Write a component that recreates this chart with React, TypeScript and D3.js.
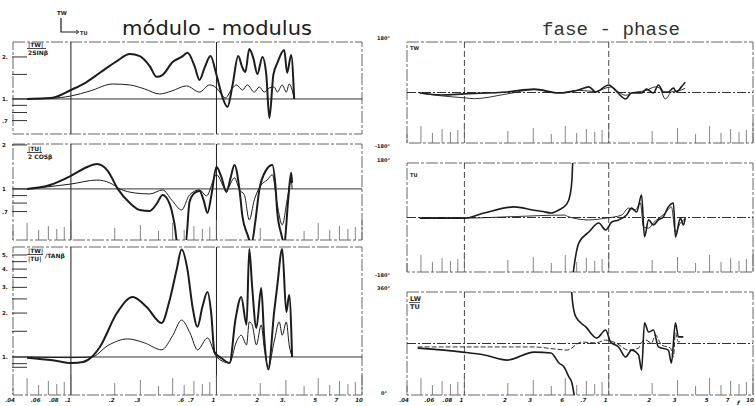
import React from 'react';
import * as d3 from 'd3';

const W = 755;
const H = 406;

type Pt = [number, number];

// ---- módulo (modulus) curves: [frequency, value] ----
const twModThick: Pt[] = [[0.05,1],[0.0664,1.01],[0.0777,1.03],[0.1,1.16],[0.125,1.30],[0.158,1.54],[0.207,1.87],[0.254,2.10],[0.297,2.03],[0.348,1.72],[0.388,1.44],[0.427,1.49],[0.5,1.84],[0.576,2.0],[0.633,2.14],[0.707,1.72],[0.765,1.37],[0.828,1.67],[0.91,2.03],[1.0,1.49],[1.10,1.03],[1.19,0.876],[1.29,1.26],[1.41,2.03],[1.51,1.67],[1.58,1.56],[1.68,2.28],[1.79,1.97],[1.91,1.51],[2.07,2.0],[2.20,1.49],[2.31,0.73],[2.46,1.49],[2.62,1.81],[2.92,2.24],[3.06,1.54],[3.26,2.07],[3.42,1.0]];
const twModThin: Pt[] = [[0.05,1],[0.0718,1.01],[0.1,1.05],[0.135,1.14],[0.194,1.28],[0.254,1.26],[0.321,1.18],[0.407,1.086],[0.492,1.14],[0.623,1.24],[0.765,1.12],[0.895,1.26],[1.0,1.20],[1.08,1.086],[1.15,1.017],[1.29,1.20],[1.37,1.26],[1.51,1.16],[1.63,1.26],[1.82,1.12],[1.97,1.22],[2.13,1.12],[2.31,1.20],[2.49,1.22],[2.62,1.12],[2.83,1.26],[3.02,1.12],[3.16,1.28],[3.31,1.16],[3.42,1.0]];

const tuModThick: Pt[] = [[0.05,1],[0.0718,1.065],[0.1,1.23],[0.125,1.39],[0.151,1.48],[0.179,1.33],[0.21,1.0],[0.254,0.80],[0.297,0.718],[0.348,0.707],[0.388,0.79],[0.427,0.91],[0.477,0.79],[0.516,0.567],[0.54,0.42],[0.614,0.42],[0.653,0.815],[0.707,0.939],[0.765,0.969],[0.815,0.841],[0.868,0.685],[0.924,0.91],[1.0,1.41],[1.08,1.21],[1.17,0.954],[1.25,1.19],[1.33,1.46],[1.44,0.984],[1.51,0.643],[1.63,0.49],[1.74,0.42],[1.85,0.60],[1.97,0.984],[2.20,1.35],[2.42,1.46],[2.54,1.065],[2.62,0.685],[2.79,0.49],[2.92,0.42],[3.11,0.841],[3.26,1.29],[3.31,1.10]];
const tuModThin: Pt[] = [[0.05,1],[0.1,1.08],[0.151,1.15],[0.185,1.10],[0.217,1.0],[0.274,0.939],[0.348,0.924],[0.427,0.984],[0.492,0.841],[0.576,0.718],[0.653,0.91],[0.765,0.984],[0.854,0.896],[1.0,1.25],[1.17,0.984],[1.33,1.19],[1.44,0.984],[1.555,0.91],[1.68,0.613],[1.82,0.841],[2.03,1.065],[2.23,1.15],[2.42,1.25],[2.62,0.777],[2.83,0.567],[3.06,0.841],[3.26,1.15],[3.31,1.0]];

const ratioModThick: Pt[] = [[0.05,0.99],[0.075,0.95],[0.102,0.91],[0.121,0.924],[0.139,1.0],[0.158,1.17],[0.207,2.0],[0.266,2.58],[0.331,2.2],[0.42,1.71],[0.477,2.46],[0.532,3.94],[0.576,5.45],[0.633,3.94],[0.685,2.2],[0.741,1.61],[0.80,2.2],[0.868,2.79],[0.92,2.0],[0.969,1.08],[1.08,0.984],[1.23,0.91],[1.35,1.8],[1.48,2.58],[1.61,1.66],[1.68,5.5],[1.76,3.0],[1.88,1.58],[2.03,2.97],[2.13,1.35],[2.27,0.82],[2.49,2.03],[2.62,3.11],[2.83,5.5],[3.02,2.03],[3.16,2.66],[3.31,1.0]];
const ratioModThin: Pt[] = [[0.05,1.0],[0.1,0.99],[0.139,1.0],[0.18,1.2],[0.245,1.33],[0.32,1.25],[0.42,1.12],[0.5,1.4],[0.576,1.79],[0.66,1.45],[0.741,1.12],[0.868,1.35],[1.0,1.0],[1.23,0.91],[1.37,1.27],[1.48,1.41],[1.61,1.21],[1.68,1.74],[1.76,1.66],[1.88,1.21],[2.03,1.66],[2.13,1.15],[2.27,0.854],[2.49,1.27],[2.70,1.74],[2.83,1.41],[3.02,1.74],[3.16,1.21],[3.31,1.0]];

// ---- fase (phase) curves: [frequency, degrees] ----
const twPhaseThick: Pt[] = [[0.049,-2],[0.0694,-9],[0.1,-5],[0.198,2],[0.304,12],[0.452,-2],[0.621,9],[0.728,20],[0.814,2],[1.0,27],[1.14,2],[1.31,-23],[1.44,-2],[1.69,-2],[1.83,12],[2.04,-2],[2.21,27],[2.39,2],[2.59,2],[2.81,16],[2.94,2],[3.19,20],[3.39,37]];
const twPhaseThin: Pt[] = [[0.049,-2],[0.0694,-12],[0.1,-19],[0.117,-22],[0.198,-5],[0.304,10],[0.452,-1],[0.621,8],[0.814,3],[0.953,16],[1.05,20],[1.17,2],[1.31,-10],[1.44,-2],[1.83,8],[2.11,20],[2.25,16],[2.47,-23],[2.72,2],[3.19,9],[3.39,15]];

const tuPhaseThickA: Pt[] = [[0.049,-2],[0.1,-2],[0.137,15],[0.221,35],[0.304,24],[0.35,20],[0.398,15],[0.452,25],[0.513,45],[0.54,75],[0.556,124],[0.563,185]];
const tuPhaseThickB: Pt[] = [[0.567,-185],[0.58,-150],[0.621,-84],[0.728,-48],[0.853,-18],[0.953,-41],[1.05,-15],[1.17,-8],[1.33,8],[1.44,31],[1.56,18],[1.69,74],[1.77,-64],[1.89,-8],[2.04,-25],[2.21,-8],[2.39,2],[2.59,35],[2.81,48],[2.90,-64],[3.14,-2],[3.29,-25],[3.39,-2]];
const tuPhaseThin: Pt[] = [[0.049,-2],[0.1,-2],[0.221,3],[0.49,8],[0.53,2],[0.728,-8],[0.953,-2],[1.23,8],[1.37,31],[1.53,25],[1.66,48],[1.74,-31],[1.89,-35],[2.04,-18],[2.47,15],[2.72,35],[2.90,-48],[3.14,-18],[3.39,-5]];

const ratioPhaseThickA: Pt[] = [[0.0474,164],[0.097,150],[0.137,140],[0.198,122],[0.304,150],[0.398,147],[0.452,112],[0.49,98],[0.53,63],[0.556,42],[0.573,7],[0.578,-5]];
const ratioPhaseThickB: Pt[] = [[0.553,365],[0.56,330],[0.592,273],[0.694,238],[0.827,199],[0.953,227],[1.03,185],[1.17,168],[1.31,133],[1.44,157],[1.61,140],[1.69,87],[1.77,252],[1.89,220],[2.04,227],[2.21,168],[2.59,157],[2.72,112],[2.90,252],[3.04,203],[3.29,203]];
const ratioPhaseThin: Pt[] = [[0.0474,168],[0.1,168],[0.198,168],[0.304,168],[0.417,161],[0.513,157],[0.651,185],[0.814,182],[0.953,192],[1.12,182],[1.37,157],[1.61,164],[1.69,185],[1.80,192],[1.98,182],[2.11,210],[2.32,175],[2.68,164],[2.81,133],[2.90,217],[3.04,185],[3.19,192]];

// ---- axis labels ----
const leftFreqTicks = [0.04, 0.06, 0.08, 0.1, 0.2, 0.3, 0.6, 0.7, 1, 2, 3, 5, 7, 10];
const leftFreqLabels = ['.04', '.06', '.08', '.1', '.2', '.3', '.6', '.7', '1', '2', '3.', '5', '7', '10'];
const rightFreqTicks = [0.04, 0.06, 0.08, 0.1, 0.2, 0.3, 0.5, 0.7, 1, 2, 3, 5, 7, 10];
const rightFreqLabels = ['.04', '.06', '.08', '1', '2', '3', '6', '.7', '1', '2', '3', '5', '7', '10'];

const twModTicks = [2, 1.5, 1, 0.9, 0.8, 0.7];
const twModLabels: [number, string][] = [[2, '2.'], [1, '1.'], [0.7, '.7']];
const tuModTicks = [2, 1, 0.9, 0.8, 0.7];
const tuModLabels: [number, string][] = [[2, '2'], [1, '1'], [0.7, '.7']];
const ratioModTicks = [5, 4.5, 4, 3.5, 3, 2.5, 2, 1.5, 1, 0.9, 0.85];
const ratioModLabels: [number, string][] = [[5, '5.'], [4, '4.'], [3, '3.'], [2, '2.'], [1, '1.']];

const combHeight: Record<number, number> = { 1: 20, 2: 12, 3: 15, 4: 9, 5: 17, 6: 10, 7: 14, 8: 11, 9: 13 };

const INK = '#1c1c1c';
const FRAME = '#666';

const xL = d3.scaleLog().domain([0.04, 10]).range([13, 362]);
const xR = d3.scaleLog().domain([0.04, 10]).range([407, 753]);

type Curve = { data: Pt[]; w: number; dash?: string };

type PanelProps = {
  id: string;
  x: d3.ScaleLogarithmic<number, number>;
  y: any;
  refValue: number;
  curves: Curve[];
  comb?: boolean;
  dashedGrid?: boolean;
};

function Panel({ id, x, y, refValue, curves, comb, dashedGrid }: PanelProps) {
  const [x0, x1] = x.range();
  const [yb, yt] = y.range();
  const line = d3.line<Pt>().x(d => x(d[0])).y(d => y(d[1])).curve(d3.curveMonotoneX);
  const ticks = x.ticks();
  return (
    <g>
      <defs>
        <clipPath id={id}>
          <rect x={x0} y={yt} width={x1 - x0} height={yb - yt} />
        </clipPath>
      </defs>
      <rect x={x0} y={yt} width={x1 - x0} height={yb - yt} fill="none" stroke={FRAME}
        strokeWidth={1} strokeDasharray="12 2 3 2" />
      {[0.1, 1].map(v => (
        <line key={v} x1={x(v)} x2={x(v)} y1={yt} y2={yb} stroke={INK}
          strokeWidth={dashedGrid ? 0.8 : 1} strokeDasharray={dashedGrid ? '6 3' : undefined} />
      ))}
      <line x1={x0} x2={x1} y1={y(refValue)} y2={y(refValue)} stroke={INK} strokeWidth={0.9}
        strokeDasharray={dashedGrid ? '9 2 2 2' : undefined} />
      {comb && ticks.map((t, i) => {
        const digit = Math.round(t / Math.pow(10, Math.floor(Math.log10(t) + 1e-9)));
        return (
          <line key={i} x1={x(t)} x2={x(t)} y1={yb} y2={yb - (combHeight[digit] || 10)}
            stroke={FRAME} strokeWidth={0.8} />
        );
      })}
      <g clipPath={`url(#${id})`}>
        {curves.map((c, i) => (
          <path key={i} d={line(c.data) || ''} fill="none" stroke={INK} strokeWidth={c.w}
            strokeDasharray={c.dash} strokeLinejoin="round" />
        ))}
      </g>
    </g>
  );
}

function LeftTicks({ y, ticks, labels }: { y: any; ticks: number[]; labels: [number, string][] }) {
  return (
    <g>
      {ticks.map((t, i) => (
        <line key={i} x1={12} x2={27} y1={y(t)} y2={y(t)} stroke={INK} strokeWidth={0.9} />
      ))}
      {labels.map(([v, s], i) => (
        <text key={i} x={2} y={y(v) + 2} fontSize={5.5} fontWeight="bold" fill={INK}
          fontFamily="DejaVu Sans">{s}</text>
      ))}
    </g>
  );
}

function FreqLabels({ x, ticks, labels }: { x: any; ticks: number[]; labels: string[] }) {
  return (
    <g>
      {ticks.map((t, i) => (
        <text key={i} x={x(t) - 3} y={402} fontSize={5.5} fontWeight="bold" fill={INK}
          textAnchor="middle" fontFamily="DejaVu Sans" fontStyle="italic">{labels[i]}</text>
      ))}
    </g>
  );
}

export default function App() {
  const yTWmod = d3.scaleLog().domain([0.561, 2.56]).range([134, 42]);
  const yTUmod = d3.scaleLog().domain([0.447, 2.03]).range([240, 144]);
  const yRatioMod = d3.scaleLog().domain([0.549, 5.67]).range([395, 247]);
  const yTWph = d3.scaleLinear().domain([-180, 180]).range([143, 42]);
  const yTUph = d3.scaleLinear().domain([-180, 180]).range([272, 163]);
  const yRatioPh = d3.scaleLinear().domain([0, 360]).range([395, 292]);

  const small = { fontSize: 6, fontWeight: 'bold' as const, fill: INK, fontFamily: 'DejaVu Sans' };
  const deg = { fontSize: 5, fontWeight: 'bold' as const, fill: INK, fontFamily: 'DejaVu Sans' };

  return (
    <svg width={W} height={H} style={{ position: 'absolute', left: 0, top: 0, background: '#fff' }}>
      {/* headings */}
      <text x={57} y={15} {...small} fontSize={5.5}>TW</text>
      <path d="M61,18 L61,32 L78,32" fill="none" stroke={INK} strokeWidth={1.2} />
      <path d="M76,30 L79,32 L76,34" fill="none" stroke={INK} strokeWidth={0.8} />
      <text x={80} y={35} {...small} fontSize={5}>TU</text>
      <text x={122} y={35} fontSize={19} fontFamily="DejaVu Sans" fill={INK}
        textLength={190} lengthAdjust="spacingAndGlyphs">módulo - modulus</text>
      <text x={542} y={35} fontSize={18} fontFamily="Liberation Mono" fill="#333"
        textLength={138} lengthAdjust="spacingAndGlyphs">fase - phase</text>

      {/* modulus panels */}
      <Panel id="c1" x={xL} y={yTWmod} refValue={1}
        curves={[{ data: twModThin, w: 1 }, { data: twModThick, w: 2 }]} />
      <LeftTicks y={yTWmod} ticks={twModTicks} labels={twModLabels} />
      <text x={28} y={47} {...small}>|TW|</text>
      <line x1={27} x2={46} y1={48.5} y2={48.5} stroke={INK} strokeWidth={0.8} />
      <text x={28} y={55} {...small}>2SINβ</text>

      <Panel id="c2" x={xL} y={yTUmod} refValue={1} comb
        curves={[{ data: tuModThin, w: 1 }, { data: tuModThick, w: 2 }]} />
      <LeftTicks y={yTUmod} ticks={tuModTicks} labels={tuModLabels} />
      <text x={28} y={151} {...small}>|TU|</text>
      <line x1={27} x2={42} y1={152.5} y2={152.5} stroke={INK} strokeWidth={0.8} />
      <text x={28} y={159} {...small}>2 COSβ</text>

      <Panel id="c3" x={xL} y={yRatioMod} refValue={1} comb
        curves={[{ data: ratioModThin, w: 1 }, { data: ratioModThick, w: 2 }]} />
      <LeftTicks y={yRatioMod} ticks={ratioModTicks} labels={ratioModLabels} />
      <text x={28} y={253} {...small}>|TW|</text>
      <line x1={27} x2={43} y1={254.5} y2={254.5} stroke={INK} strokeWidth={0.8} />
      <text x={28} y={261} {...small}>|TU|</text>
      <text x={45} y={258} {...small}>/TANβ</text>
      <FreqLabels x={xL} ticks={leftFreqTicks} labels={leftFreqLabels} />

      {/* phase panels */}
      <Panel id="c4" x={xR} y={yTWph} refValue={0} comb dashedGrid
        curves={[{ data: twPhaseThin, w: 0.9 }, { data: twPhaseThick, w: 1.6 }]} />
      <text x={410} y={50} {...small} fontSize={5}>TW</text>
      <text x={377} y={40} {...deg}>180°</text>
      <text x={375} y={148} {...deg}>-180°</text>

      <Panel id="c5" x={xR} y={yTUph} refValue={0} comb dashedGrid
        curves={[{ data: tuPhaseThin, w: 0.9 }, { data: tuPhaseThickA, w: 1.6 }, { data: tuPhaseThickB, w: 1.6 }]} />
      <text x={410} y={177} {...small} fontSize={5}>TU</text>
      <text x={377} y={162} {...deg}>180°</text>
      <text x={375} y={277} {...deg}>-180°</text>

      <Panel id="c6" x={xR} y={yRatioPh} refValue={180} comb dashedGrid
        curves={[{ data: ratioPhaseThin, w: 0.9, dash: '5 2' }, { data: ratioPhaseThickA, w: 1.6 }, { data: ratioPhaseThickB, w: 1.6 }]} />
      <text x={410} y={301} {...small} fontSize={6.5}>LW</text>
      <line x1={409} x2={420} y1={302.5} y2={302.5} stroke={INK} strokeWidth={0.7} />
      <text x={410} y={309} {...small} fontSize={6.5}>TU</text>
      <text x={377} y={290} {...deg}>360°</text>
      <text x={381} y={395} {...deg}>0°</text>
      <FreqLabels x={xR} ticks={rightFreqTicks} labels={rightFreqLabels} />
      <text x={737} y={405} {...small} fontStyle="italic">f</text>
    </svg>
  );
}
